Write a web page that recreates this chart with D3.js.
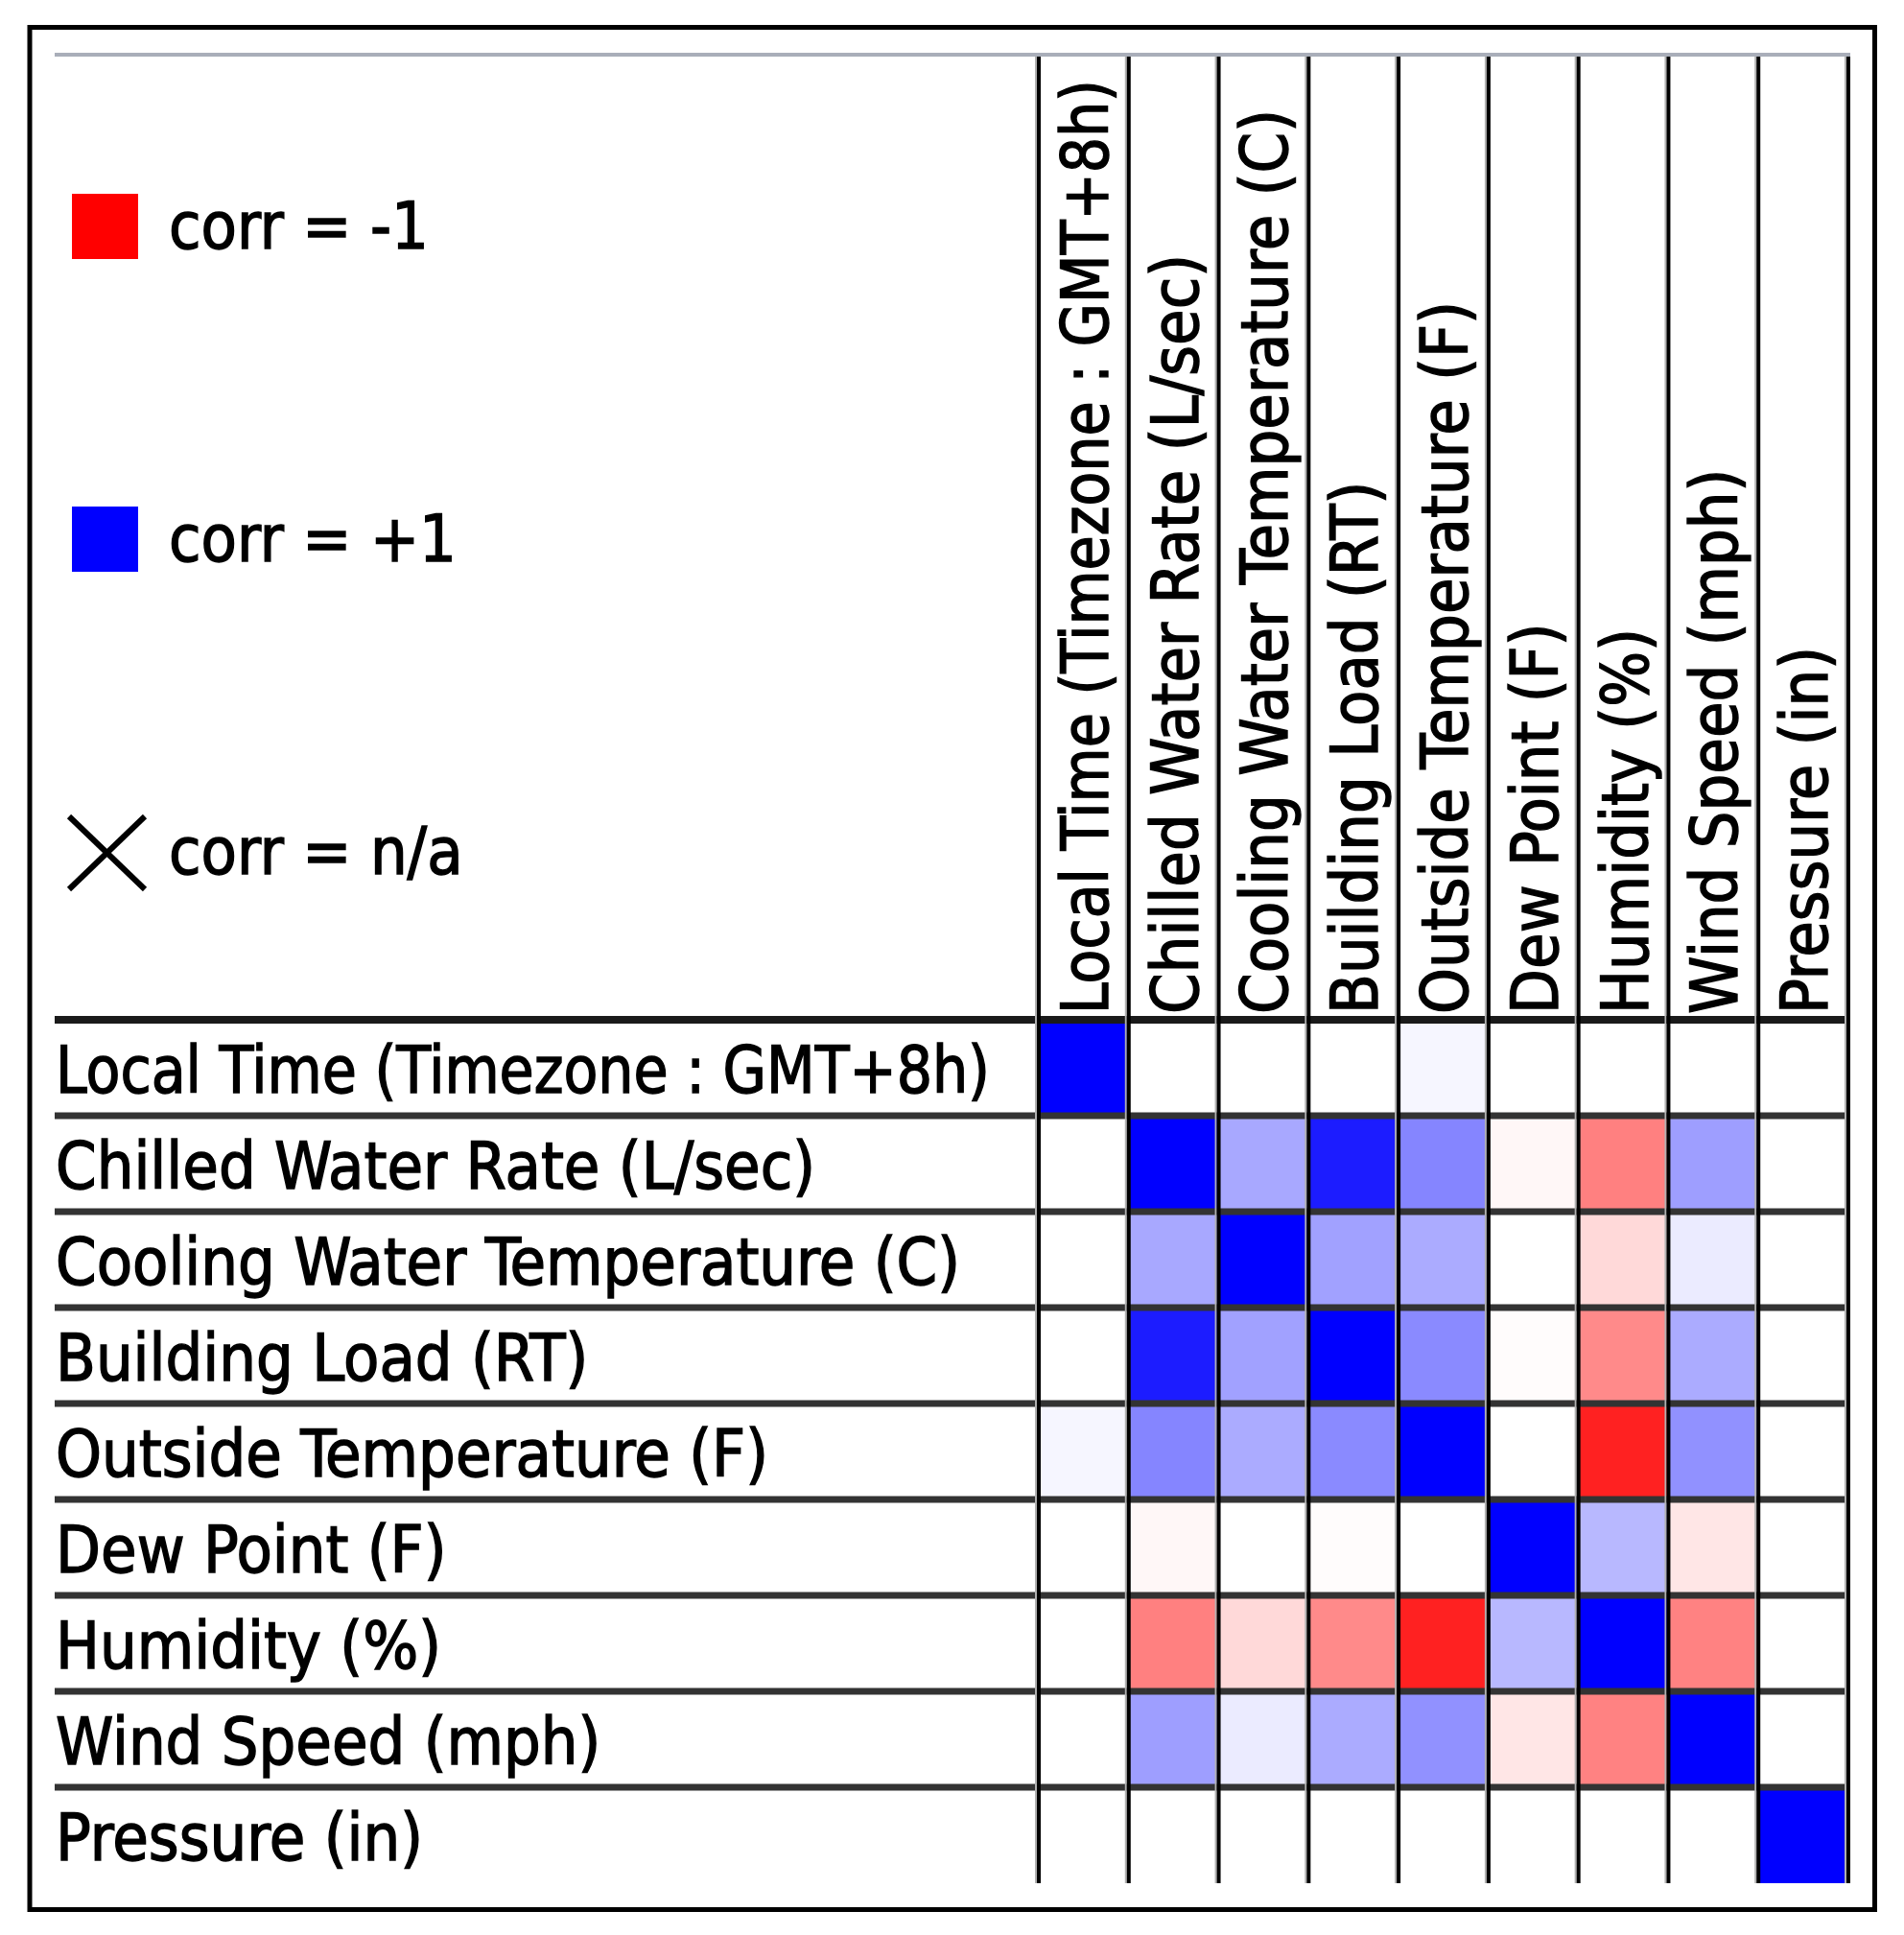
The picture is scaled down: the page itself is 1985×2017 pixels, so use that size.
<!DOCTYPE html>
<html>
<head>
<meta charset="utf-8">
<script src="https://d3js.org/d3.v7.min.js"></script>
<style>
  body { margin: 0; background: #fff; }
  text { font-family: "DejaVu Sans Condensed", "DejaVu Sans", sans-serif; fill: #000; stroke: #000; stroke-width: 1.4px; }
</style>
</head>
<body>
<svg width="1985" height="2017"></svg>
<script>
// variable names, same order for rows and columns
var variables = [
  "Local Time (Timezone : GMT+8h)",
  "Chilled Water Rate (L/sec)",
  "Cooling Water Temperature (C)",
  "Building Load (RT)",
  "Outside Temperature (F)",
  "Dew Point (F)",
  "Humidity (%)",
  "Wind Speed (mph)",
  "Pressure (in)"
];

// correlation rows
var localTime    = [1,     0,     0,     0,     0.035, 0,     0,     0,     0];
var chilledWater = [0,     1,     0.34,  0.89,  0.48,  -0.03, -0.5,  0.38,  0];
var coolingWater = [0,     0.34,  1,     0.37,  0.33,  0,     -0.15, 0.08,  0];
var buildingLoad = [0,     0.89,  0.37,  1,     0.46,  -0.01, -0.46, 0.33,  0];
var outsideTemp  = [0.035, 0.48,  0.33,  0.46,  1,     0,     -0.87, 0.43,  0];
var dewPoint     = [0,     -0.03, 0,     -0.01, 0,     1,     0.28,  -0.1,  0];
var humidity     = [0,     -0.5,  -0.15, -0.46, -0.87, 0.28,  1,     -0.49, 0];
var windSpeed    = [0,     0.38,  0.08,  0.33,  0.43,  -0.1,  -0.49, 1,     0];
var pressure     = [0,     0,     0,     0,     0,     0,     0,     0,     1];
var corr = [localTime, chilledWater, coolingWater, buildingLoad, outsideTemp,
            dewPoint, humidity, windSpeed, pressure];

var legendLabels = ["corr = -1", "corr = +1", "corr = n/a"];
var legendValues = [-1, 1, null];

var svg = d3.select("svg");
var fs = 68;
var n = variables.length;

var x = d3.scaleBand().domain(d3.range(n)).range([1083, 1927]);
var y = d3.scaleBand().domain(d3.range(n)).range([1063, 1963]);
var color = d3.scaleLinear().domain([-1, 0, 1]).range(["#ff0000", "#ffffff", "#0000ff"]);
var legendY = d3.scalePoint().domain(legendLabels).range([236, 888]);

// outer frame
svg.append("rect")
  .attr("x", 31).attr("y", 28.5)
  .attr("width", 1923.5).attr("height", 1962)
  .attr("fill", "none").attr("stroke", "#000").attr("stroke-width", 5);

// cells
var cells = [];
corr.forEach(function(row, i) {
  row.forEach(function(v, j) { cells.push({r: i, c: j, v: v}); });
});
svg.append("g").selectAll("rect").data(cells).enter().append("rect")
  .attr("x", function(d) { return x(d.c); })
  .attr("y", function(d) { return y(d.r); })
  .attr("width", x.bandwidth())
  .attr("height", y.bandwidth())
  .attr("fill", function(d) { return color(d.v); });

// top grey rule
svg.append("line")
  .attr("x1", 57).attr("x2", 1929).attr("y1", 57).attr("y2", 57)
  .attr("stroke", "#a9aeb9").attr("stroke-width", 4);

// row separators
svg.append("g").selectAll("line").data(d3.range(n)).enter().append("line")
  .attr("x1", 57).attr("x2", 1929)
  .attr("y1", function(i) { return y(i); })
  .attr("y2", function(i) { return y(i); })
  .attr("stroke", function(i) { return i === 0 ? "#1a1a1a" : "#333"; })
  .attr("stroke-width", function(i) { return i === 0 ? 8 : 7; });

// column separators
var cols = d3.range(n + 1);
var colX = function(j) { return j < n ? x(j) : x(n - 1) + x.bandwidth(); };
svg.append("g").selectAll("line").data(cols).enter().append("line")
  .attr("x1", function(j) { return colX(j) - 3; })
  .attr("x2", function(j) { return colX(j) - 3; })
  .attr("y1", 59).attr("y2", 1963)
  .attr("stroke", "#b0b0b0").attr("stroke-width", 2);
svg.append("g").selectAll("line").data(cols).enter().append("line")
  .attr("x1", colX).attr("x2", colX)
  .attr("y1", 59).attr("y2", 1963)
  .attr("stroke", "#000").attr("stroke-width", 4);

// squeeze the font to the width of the original labels, capped to the room left of the grid
var probe = svg.append("text").attr("font-size", fs).text(variables[2]);
var squeeze = 943 / probe.node().getComputedTextLength();
probe.remove();
var maxLen = 974;
function fit(sel) {
  sel.each(function() {
    var w = Math.min(this.getComputedTextLength() * squeeze, maxLen);
    d3.select(this).attr("textLength", w).attr("lengthAdjust", "spacingAndGlyphs");
  });
}

// row labels
svg.append("g").selectAll("text").data(variables).enter().append("text")
  .attr("x", 58)
  .attr("y", function(d, i) { return y(i) + y.bandwidth() / 2 + 26; })
  .attr("font-size", fs)
  .text(function(d) { return d; })
  .call(fit);

// column labels, rotated
svg.append("g").selectAll("text").data(variables).enter().append("text")
  .attr("transform", function(d, i) {
    return "translate(" + (x(i) + x.bandwidth() / 2 + 25) + "," + 1057 + ") rotate(-90)";
  })
  .attr("font-size", fs)
  .text(function(d) { return d; })
  .call(fit);

// legend
var legend = svg.append("g").selectAll("g").data(legendLabels).enter().append("g")
  .attr("transform", function(d) { return "translate(0," + legendY(d) + ")"; });
legend.filter(function(d, i) { return legendValues[i] !== null; })
  .append("rect")
  .attr("x", 75).attr("y", -34).attr("width", 69).attr("height", 68)
  .attr("fill", function(d) { return color(legendValues[legendLabels.indexOf(d)]); });
var na = legend.filter(function(d, i) { return legendValues[i] === null; });
na.append("line").attr("x1", 72).attr("y1", -37).attr("x2", 151).attr("y2", 39)
  .attr("stroke", "#000").attr("stroke-width", 6);
na.append("line").attr("x1", 151).attr("y1", -37).attr("x2", 72).attr("y2", 39)
  .attr("stroke", "#000").attr("stroke-width", 6);
legend.append("text")
  .attr("x", 176).attr("y", 23)
  .attr("font-size", fs)
  .text(function(d) { return d; })
  .call(fit);
</script>
</body>
</html>
